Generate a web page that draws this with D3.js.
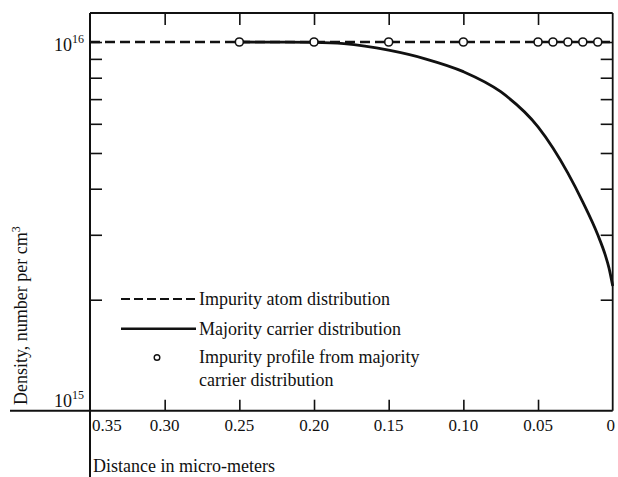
<!DOCTYPE html>
<html>
<head>
<meta charset="utf-8">
<script src="https://cdn.jsdelivr.net/npm/d3@7"></script>
<style>
  html, body { margin: 0; padding: 0; background: #fff; }
  svg { display: block; }
  text { font-family: "Liberation Serif", "Times New Roman", serif; fill: #111; }
</style>
</head>
<body>
<svg id="chart" width="618" height="477"></svg>
<script>
// ---- Data ----
const xTicks = [0.35, 0.30, 0.25, 0.20, 0.15, 0.10, 0.05, 0];
const xTickLabels = ["0.35", "0.30", "0.25", "0.20", "0.15", "0.10", "0.05", "0"];
const yMinorTicks = [2e15, 3e15, 4e15, 5e15, 6e15, 7e15, 8e15, 9e15, 1e16];

// Impurity atom distribution (dashed, constant)
const impurityX = [0.35, 0];
const impurityY = [1e16, 1e16];

// Majority carrier distribution (solid curve)
const carrierX = [0.25, 0.22, 0.20, 0.18, 0.15, 0.125, 0.10, 0.075, 0.05, 0.04, 0.03, 0.02, 0.01, 0.005, 0.0025, 0];
const carrierY = [1.0e16, 0.9995e16, 0.998e16, 0.99e16, 0.95e16, 0.899e16, 0.831e16, 0.733e16, 0.5885e16, 0.516e16, 0.441e16, 0.368e16, 0.300e16, 0.2645e16, 0.244e16, 0.218e16];

// Impurity profile from majority carrier distribution (circles)
const profileX = [0.25, 0.20, 0.15, 0.10, 0.05, 0.04, 0.03, 0.02, 0.01];
const profileY = [1e16, 1e16, 1e16, 1e16, 1e16, 1e16, 1e16, 1e16, 1e16];

const legendLabels = [
  "Impurity atom distribution",
  "Majority carrier distribution",
  ["Impurity profile from majority", "carrier distribution"]
];

// ---- Layout ----
const L = 90, R = 612.7, T = 13, B = 410.7;
const svg = d3.select("#chart");

const x = d3.scaleLinear().domain([0.35, 0]).range([L, R]);
const y = d3.scaleLog().domain([1e15, 1e16]).range([B, 42]);

const ink = "#111";

// Frame
const frame = svg.append("g").attr("stroke", ink).attr("fill", "none");
frame.append("line").attr("x1", L).attr("x2", R).attr("y1", T).attr("y2", T).attr("stroke-width", 1.8);
frame.append("line").attr("x1", R).attr("x2", R).attr("y1", T).attr("y2", B).attr("stroke-width", 1.8);
frame.append("line").attr("x1", 10).attr("x2", R).attr("y1", B).attr("y2", B).attr("stroke-width", 2);
frame.append("line").attr("x1", L).attr("x2", L).attr("y1", T).attr("y2", 477).attr("stroke-width", 2);

// Axes (ticks inward)
const innerX = xTicks.filter(d => d !== 0.35 && d !== 0);
function styleAxis(g) {
  g.select(".domain").remove();
  g.selectAll(".tick line").attr("stroke", ink).attr("stroke-width", 1.6);
  g.selectAll(".tick text").remove();
}
svg.append("g").attr("transform", `translate(0,${T})`)
  .call(d3.axisBottom(x).tickValues(innerX).tickSize(12).tickSizeOuter(0))
  .call(styleAxis);
svg.append("g").attr("transform", `translate(0,${B})`)
  .call(d3.axisTop(x).tickValues(innerX).tickSize(11).tickSizeOuter(0))
  .call(styleAxis);
svg.append("g").attr("transform", `translate(${L},0)`)
  .call(d3.axisRight(y).tickValues(yMinorTicks).tickSize(12).tickSizeOuter(0))
  .call(styleAxis);
svg.append("g").attr("transform", `translate(${R},0)`)
  .call(d3.axisLeft(y).tickValues(yMinorTicks).tickSize(12).tickSizeOuter(0))
  .call(styleAxis);

// X tick labels
svg.append("g").selectAll("text").data(xTicks).join("text")
  .attr("x", (d, i) => i === 0 ? x(d) + 2 : (d === 0 ? x(d) - 2 : x(d)))
  .attr("y", 431)
  .attr("text-anchor", (d, i) => i === 0 ? "start" : "middle")
  .attr("font-size", 17)
  .text((d, i) => xTickLabels[i]);

// Y decade labels
[[1e16, "16", 51], [1e15, "15", 407]].forEach(([v, e, base]) => {
  const t = svg.append("text").attr("x", 84).attr("y", base).attr("text-anchor", "end").attr("font-size", 18);
  t.append("tspan").text("10");
  t.append("tspan").attr("font-size", 12).attr("dy", -8).text(e);
});

// Axis titles
const yl = svg.append("text").attr("transform", "translate(27,405) rotate(-90)")
  .attr("font-size", 18).attr("text-anchor", "start");
yl.append("tspan").text("Density,  number per cm");
yl.append("tspan").attr("font-size", 12).attr("dy", -7).text("3");

svg.append("text").attr("x", 93).attr("y", 472).attr("font-size", 18).text("Distance in micro-meters");

// Data lines
const line = d3.line().x(d => x(d[0])).y(d => y(d[1]));
svg.append("path")
  .attr("d", line(d3.zip(impurityX, impurityY)))
  .attr("fill", "none").attr("stroke", ink).attr("stroke-width", 2.4)
  .attr("stroke-dasharray", "10,5");

svg.append("path")
  .attr("d", line.curve(d3.curveMonotoneX)(d3.zip(carrierX, carrierY)))
  .attr("fill", "none").attr("stroke", ink).attr("stroke-width", 2.8);

svg.append("g").selectAll("circle").data(d3.zip(profileX, profileY)).join("circle")
  .attr("cx", d => x(d[0])).attr("cy", d => y(d[1])).attr("r", 4)
  .attr("fill", "#fff").attr("stroke", ink).attr("stroke-width", 1.6);

// Legend
const lg = svg.append("g");
lg.append("line").attr("x1", 121).attr("x2", 196).attr("y1", 299).attr("y2", 299)
  .attr("stroke", ink).attr("stroke-width", 2).attr("stroke-dasharray", "9,4");
lg.append("line").attr("x1", 121).attr("x2", 196).attr("y1", 328.8).attr("y2", 328.8)
  .attr("stroke", ink).attr("stroke-width", 2.4);
lg.append("circle").attr("cx", 157).attr("cy", 357.5).attr("r", 2.8)
  .attr("fill", "#fff").attr("stroke", ink).attr("stroke-width", 1.4);
lg.append("text").attr("x", 199).attr("y", 305).attr("font-size", 18).text(legendLabels[0]);
lg.append("text").attr("x", 199).attr("y", 334.5).attr("font-size", 18).text(legendLabels[1]);
lg.append("text").attr("x", 199).attr("y", 363).attr("font-size", 18).text(legendLabels[2][0]);
lg.append("text").attr("x", 199).attr("y", 385.5).attr("font-size", 18).text(legendLabels[2][1]);
</script>
</body>
</html>
